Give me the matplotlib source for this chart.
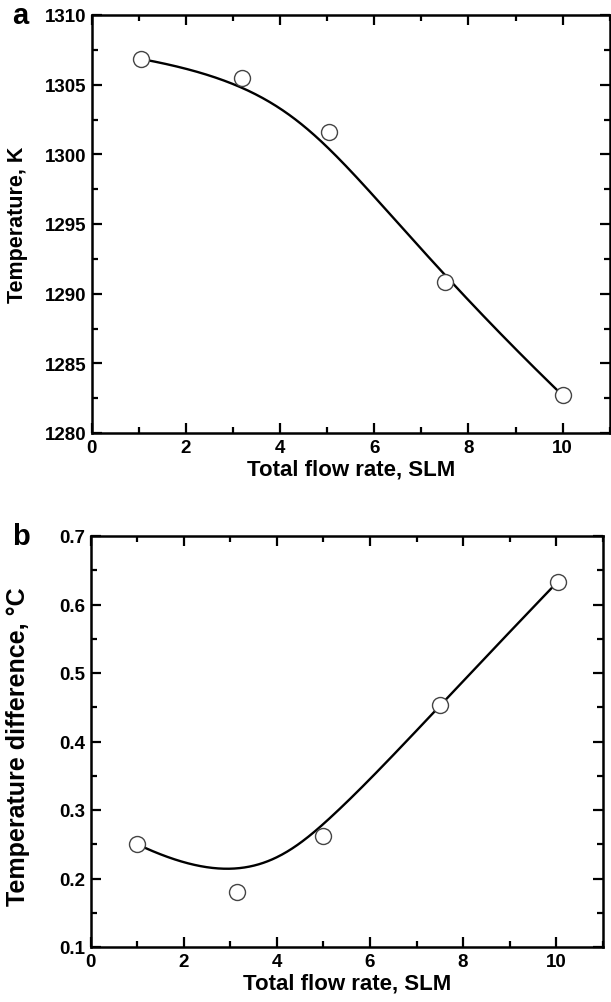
import numpy as np
import matplotlib
matplotlib.use("Agg")
import matplotlib.pyplot as plt
from matplotlib.ticker import MultipleLocator, FormatStrFormatter

plt.rcParams['font.family'] = ['Liberation Sans', 'DejaVu Sans']
plt.rcParams['font.weight'] = 'bold'

# Data
flow_a = [1.04, 3.2, 5.03, 7.5, 10.0]
temp_a = [1306.85, 1305.5, 1301.6, 1290.85, 1282.7]

flow_b = [1.0, 3.15, 5.0, 7.5, 10.03]
dtemp_b = [0.25, 0.181, 0.262, 0.454, 0.633]

xlabel = "Total flow rate, SLM"
ylabel_a = "Temperature, K"
ylabel_b = "Temperature difference, °C"

W, H = 611, 1003
fig = plt.figure(figsize=(W / 100, H / 100), dpi=100)


def px_axes(l, r, t, b):
    return fig.add_axes([l / W, 1 - b / H, (r - l) / W, (b - t) / H])


ax1 = px_axes(91.7, 609.7, 16, 434)
ax2 = px_axes(90.7, 602.7, 537, 948)


def bspline(px, py, k=3, n=300):
    """Clamped B-spline using the data points as control points (Origin-style 'B-Spline' connect)."""
    P = np.column_stack([px, py]).astype(float)
    m = len(P)
    k = min(k, m - 1)
    inner = np.linspace(0, 1, m - k + 1)[1:-1]
    t = np.concatenate([np.zeros(k + 1), inner, np.ones(k + 1)])
    us = np.linspace(0, 1, n)
    out = []
    for u in us:
        if u >= 1:
            i = m - 1
        else:
            i = np.searchsorted(t, u, side='right') - 1
        d = [P[j].copy() for j in range(i - k, i + 1)]
        for r in range(1, k + 1):
            for j in range(k, r - 1, -1):
                idx = j + i - k
                den = t[idx + k + 1 - r] - t[idx]
                a = 0.0 if den == 0 else (u - t[idx]) / den
                d[j] = (1 - a) * d[j - 1] + a * d[j]
        out.append(d[k])
    out = np.array(out)
    return out[:, 0], out[:, 1]


def style(ax, ymaj, ymin):
    ax.set_xlim(0, 11)
    ax.xaxis.set_major_locator(MultipleLocator(2))
    ax.xaxis.set_minor_locator(MultipleLocator(1))
    ax.yaxis.set_major_locator(MultipleLocator(ymaj))
    ax.yaxis.set_minor_locator(MultipleLocator(ymin))
    ax.tick_params(which='both', direction='in', top=True, right=True, width=1.6)
    ax.tick_params(which='major', length=7, labelsize=13.5, pad=4)
    ax.tick_params(which='minor', length=4)
    for s in ax.spines.values():
        s.set_linewidth(1.8)
    for lab in ax.get_xticklabels() + ax.get_yticklabels():
        lab.set_fontweight('bold')
    ax.set_xlabel(xlabel, fontsize=16, fontweight='bold', labelpad=2)


def draw(ax, x, y):
    xs, ys = bspline(x, y)
    ax.plot(xs, ys, color='black', lw=1.7, zorder=2)
    ax.plot(x, y, 'o', ms=11.5, mfc='white', mec='#444444', mew=1.0, zorder=3)


draw(ax1, flow_a, temp_a)
ax1.set_ylim(1280, 1310)
style(ax1, 5, 2.5)
ax1.set_ylabel(ylabel_a, fontsize=15.5, fontweight='bold')
ax1.yaxis.set_label_coords(-0.123, 0.5)

draw(ax2, flow_b, dtemp_b)
ax2.set_ylim(0.1, 0.7)
style(ax2, 0.1, 0.05)
ax2.yaxis.set_major_formatter(FormatStrFormatter('%.1f'))
ax2.set_ylabel(ylabel_b, fontsize=18, fontweight='bold')
ax2.yaxis.set_label_coords(-0.118, 0.49)

fig.text(12 / W, 1 - 16 / H, "a", fontsize=21, fontweight='bold', va='center', ha='left')
fig.text(12 / W, 1 - 537 / H, "b", fontsize=21, fontweight='bold', va='center', ha='left')

fig.savefig("out.png", dpi=100)
